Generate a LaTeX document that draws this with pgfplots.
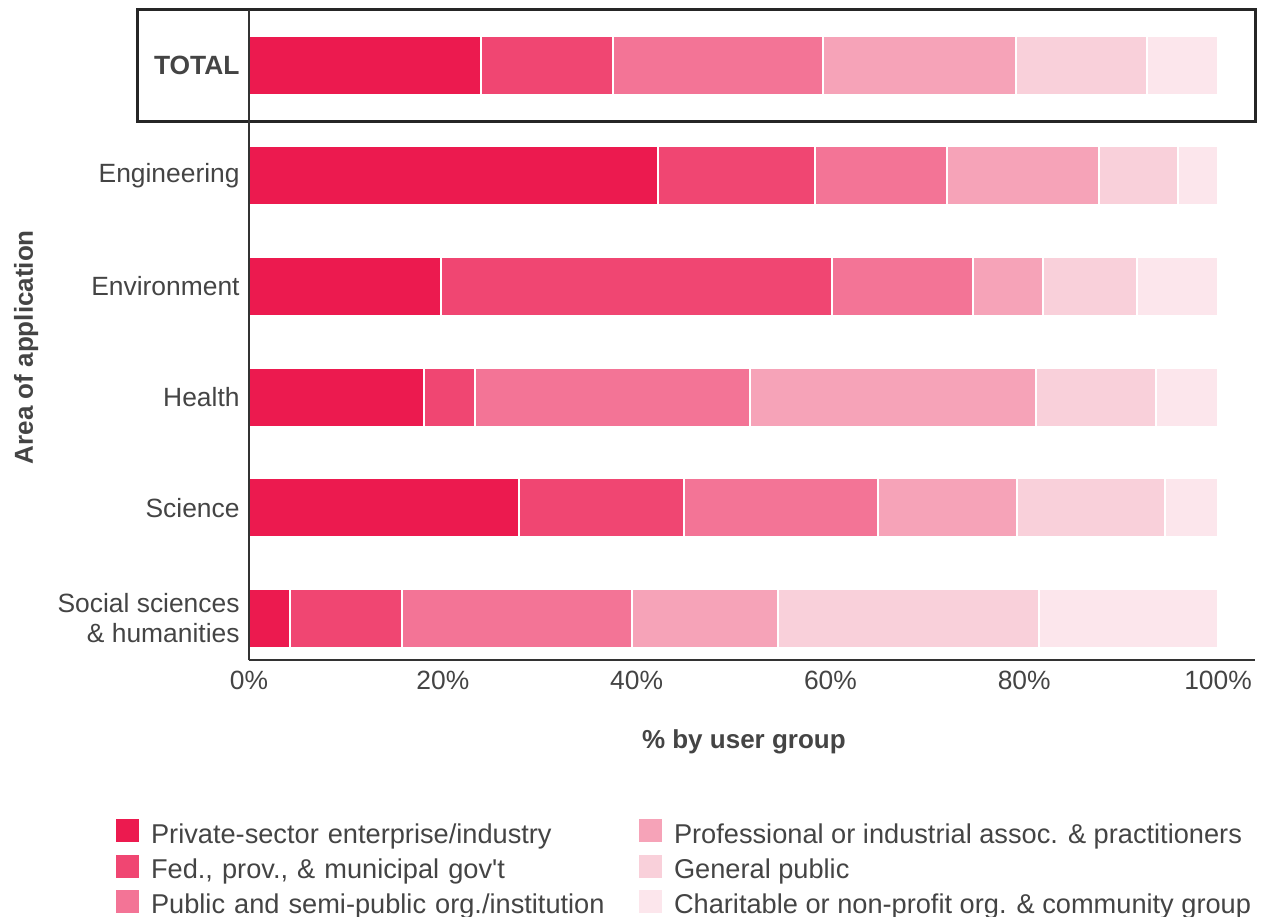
\documentclass[border=0pt]{standalone}
\usepackage{fontspec}
\setmainfont{Liberation Sans}
\usepackage{pgfplots}
\pgfplotsset{compat=1.18}
\definecolor{cA}{HTML}{EC1A4F}
\definecolor{cB}{HTML}{F04672}
\definecolor{cC}{HTML}{F37496}
\definecolor{cD}{HTML}{F6A3B8}
\definecolor{cE}{HTML}{F9D0DA}
\definecolor{cF}{HTML}{FCE6EC}
\definecolor{txt}{HTML}{444444}
\begin{document}
\begin{tikzpicture}
\begin{axis}[
  x=4.845pt, y=55.3pt,
  xmin=0, xmax=103.8, ymin=-0.38, ymax=5.5,
  xbar stacked, bar width=29.5pt,
  axis x line=bottom, axis y line=left,
  axis line style={-, line width=0.8pt, draw=black!80},
  axis on top,
  clip=false,
  xtick={0,20,40,60,80,100},
  xticklabels={0\%,20\%,40\%,60\%,80\%,100\%},
  ytick={0,1,2,3,4,5},
  yticklabels={{Social sciences\\\& humanities},Science,Health,Environment,Engineering,\textbf{TOTAL}},
  major tick length=0pt,
  tick style={draw=none},
  font=\fontsize{13}{15}\selectfont,
  ticklabel style={text=txt, font=\fontsize{13.2}{15}\selectfont},
  yticklabel style={align=right, xshift=-1.2pt},
  xticklabel style={yshift=-2pt},
  xlabel={\textbf{\% by user group}},
  ylabel={\textbf{Area of application}},
  label style={text=txt, font=\fontsize{13}{15}\selectfont},
  xlabel style={at={(axis description cs:0.492,-0.126)}, anchor=center},
  ylabel style={at={(axis description cs:-0.2215,0.4815)}, anchor=center},
  legend columns=3, transpose legend,
  legend image code/.code={\fill[#1,draw=none] (0pt,-3.75pt) rectangle (11.5pt,7.75pt); \path (17pt,0pt);},
  legend style={at={(axis description cs:-0.1322,-0.2445)}, anchor=north west,
    draw=none, fill=none, inner sep=0pt, outer sep=0pt, row sep=4.2pt, column sep=0pt,
    nodes={inner sep=0pt, text=txt, font=\fontsize{13.6}{15}\selectfont},
    cells={anchor=west}},
]
\addplot[fill=cA, draw=white, line width=1pt] coordinates {(23.9,5) (42.2,4) (19.8,3) (18.1,2) (27.9,1) (4.2,0)};
\addlegendentry[text width=244pt]{Private-sector enterprise/industry}
\addplot[fill=cB, draw=white, line width=1pt] coordinates {(13.7,5) (16.2,4) (40.4,3) (5.2,2) (17.0,1) (11.6,0)};
\addlegendentry[text width=244pt]{Fed., prov., \& municipal gov\textquotesingle t}
\addplot[fill=cC, draw=white, line width=1pt] coordinates {(21.6,5) (13.6,4) (14.5,3) (28.4,2) (20.0,1) (23.7,0)};
\addlegendentry[text width=244pt]{Public and semi-public org./institution}
\addplot[fill=cD, draw=white, line width=1pt] coordinates {(20.0,5) (15.7,4) (7.2,3) (29.5,2) (14.4,1) (15.1,0)};
\addlegendentry{Professional or industrial assoc. \& practitioners}
\addplot[fill=cE, draw=white, line width=1pt] coordinates {(13.5,5) (8.2,4) (9.7,3) (12.4,2) (15.2,1) (26.9,0)};
\addlegendentry{General public}
\addplot[fill=cF, draw=white, line width=1pt] coordinates {(7.3,5) (4.1,4) (8.4,3) (6.4,2) (5.5,1) (18.5,0)};
\addlegendentry{Charitable or non-profit org. \& community group}
\draw[line width=1.5pt, draw=black!85] (axis cs:-11.5,4.49) rectangle (axis cs:103.9,5.5);
\path (axis cs:-25.7,5.59) rectangle (axis cs:104.85,-2.69);
\end{axis}
\end{tikzpicture}
\end{document}
